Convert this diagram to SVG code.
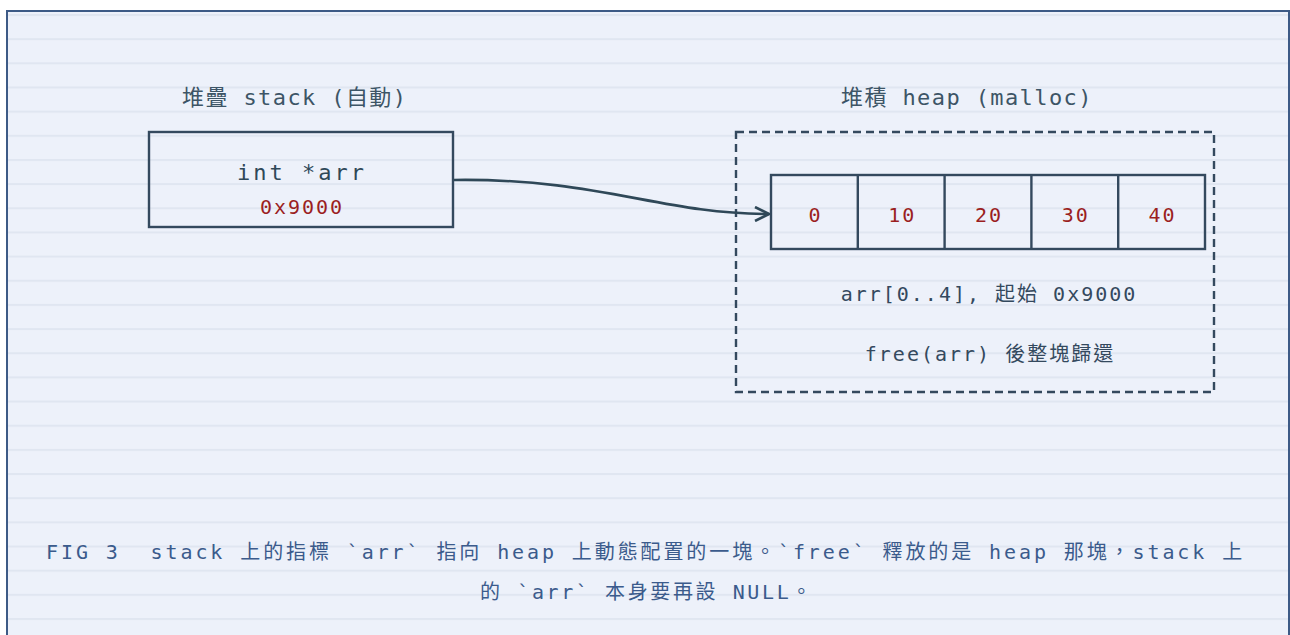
<svg xmlns="http://www.w3.org/2000/svg" width="1290" height="635" viewBox="0 0 1290 635">
<defs>
<pattern id="ruled" x="0" y="14" width="1290" height="24.16" patternUnits="userSpaceOnUse">
<rect x="0" y="0" width="1290" height="24.16" fill="#edf1fa"/>
<rect x="0" y="0" width="1290" height="2" fill="#e0e6f1"/>
</pattern>
<marker id="chev" viewBox="0 0 16 16" refX="15" refY="8" markerWidth="16" markerHeight="16" markerUnits="userSpaceOnUse" orient="auto">
<path d="M1 1 L15 8 L1 15" fill="none" stroke="#2f4858" stroke-width="2.6"/>
</marker>
<style>
.box{fill:none;stroke:#34495e;stroke-width:2.4}
.dash{fill:none;stroke:#34495e;stroke-width:2.4;stroke-dasharray:8 5}
.title{font-family:"DejaVu Sans Mono","Noto Sans CJK TC",monospace;font-size:22px;fill:#3d5566;letter-spacing:1.4px}
.code{font-family:"DejaVu Sans Mono","Noto Sans CJK TC",monospace;font-size:22px;fill:#2f4858;letter-spacing:3px}
.num{font-family:"DejaVu Sans Mono",monospace;font-size:20px;fill:#9b1f1f;letter-spacing:2px}
.note{font-family:"DejaVu Sans Mono","Noto Sans CJK TC",monospace;font-size:20px;fill:#34495e;letter-spacing:2px}
.cap{font-family:"DejaVu Sans Mono","Noto Sans CJK TC",monospace;font-size:20px;fill:#3b5b8c;letter-spacing:2.6px}
.cap1{letter-spacing:2.9px}
</style>
</defs>
<rect x="0" y="0" width="1290" height="635" fill="#ffffff"/>
<rect x="7" y="11" width="1282" height="640" fill="url(#ruled)" stroke="#3d5a86" stroke-width="2"/>

<g id="stack">
<text class="title" x="182" y="105">堆疊 stack (自動)</text>
<rect class="box" x="149" y="132" width="304" height="95"/>
<text class="code" x="302" y="180" text-anchor="middle">int *arr</text>
<text class="num" x="302" y="214" text-anchor="middle">0x9000</text>
</g>

<g id="heap">
<text class="title" x="841" y="105">堆積 heap (malloc)</text>
<rect class="dash" x="736" y="132" width="478" height="260"/>
<text class="note" x="989" y="301" text-anchor="middle">arr[0..4], 起始 0x9000</text>
<text class="note" x="990" y="361" text-anchor="middle">free(arr) 後整塊歸還</text>
</g>

<g id="array">
<rect class="box" x="771" y="175" width="434" height="74"/>
<line class="box" x1="857.8" y1="175" x2="857.8" y2="249"/>
<line class="box" x1="944.6" y1="175" x2="944.6" y2="249"/>
<line class="box" x1="1031.4" y1="175" x2="1031.4" y2="249"/>
<line class="box" x1="1118.2" y1="175" x2="1118.2" y2="249"/>
<text class="num" x="815.4" y="222" text-anchor="middle">0</text>
<text class="num" x="902.2" y="222" text-anchor="middle">10</text>
<text class="num" x="989" y="222" text-anchor="middle">20</text>
<text class="num" x="1075.8" y="222" text-anchor="middle">30</text>
<text class="num" x="1162.6" y="222" text-anchor="middle">40</text>
</g>

<g id="connectors">
<path d="M454 180 C 600 178, 660 214, 769 214" fill="none" stroke="#2f4858" stroke-width="2.6" marker-end="url(#chev)"/>
</g>

<g id="caption">
<text class="cap cap1" x="46" y="559" xml:space="preserve">FIG 3  stack 上的指標 `arr` 指向 heap 上動態配置的一塊。`free` 釋放的是 heap 那塊，stack 上</text>
<text class="cap" x="480" y="599">的 `arr` 本身要再設 NULL。</text>
</g>
</svg>
